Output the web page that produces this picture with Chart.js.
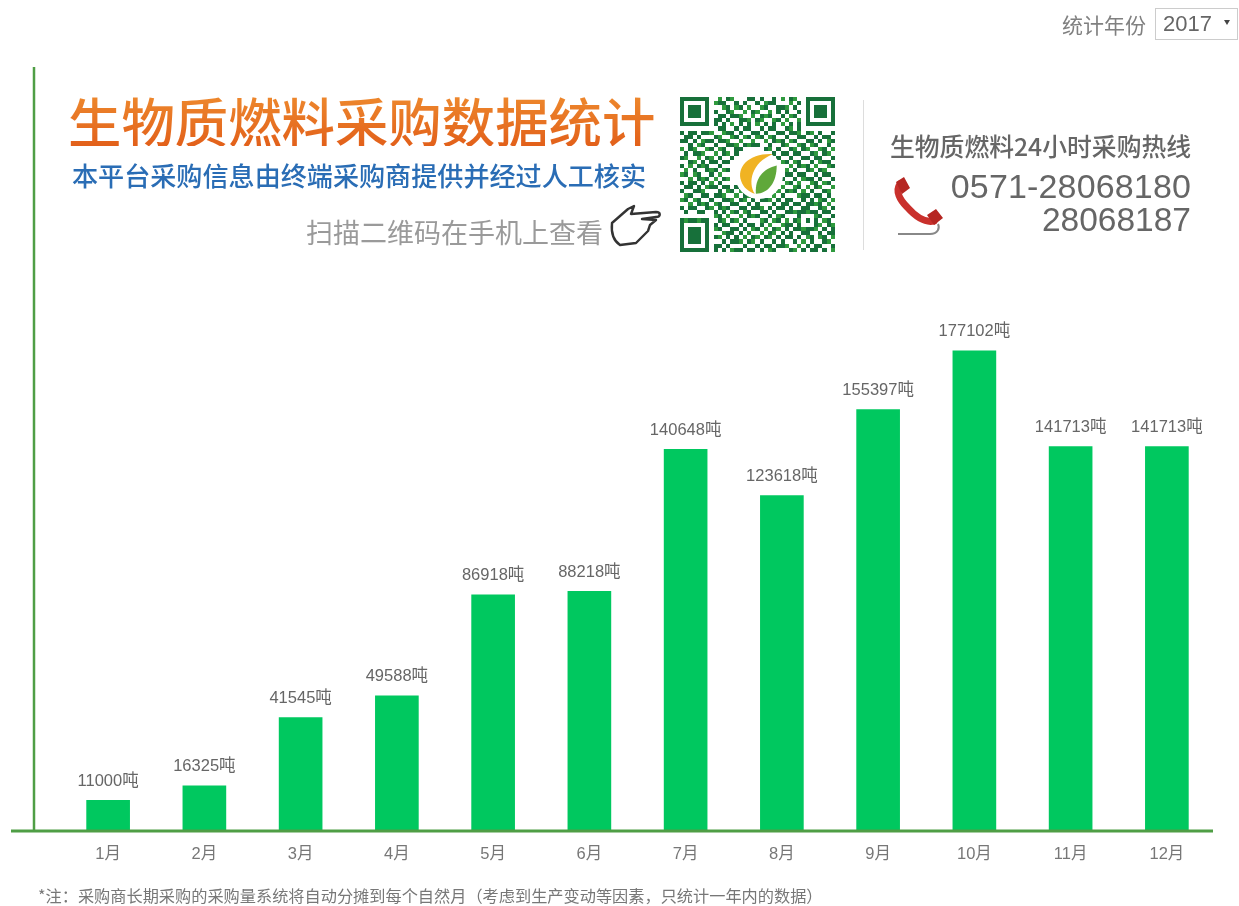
<!DOCTYPE html>
<html lang="zh-CN">
<head>
<meta charset="utf-8">
<title>生物质燃料采购数据统计</title>
<script src="https://cdn.jsdelivr.net/npm/chart.js@4/dist/chart.umd.min.js"></script>
<style>
html, body { margin: 0; padding: 0; background: #fff; }
#page { position: relative; width: 1239px; height: 906px; overflow: hidden; font-family: "Noto Sans CJK SC", sans-serif; filter: blur(0.7px); }
#myChart { position: absolute; left: 0; top: 0; }
.txt { position: absolute; white-space: nowrap; line-height: 1; }
#title { left: 68px; top: 93px; font-size: 53.4px; font-weight: 500; background: linear-gradient(#ee8a2e, #e2601a); -webkit-background-clip: text; background-clip: text; color: transparent; }
#sub { left: 72px; top: 162px; font-size: 26.1px; font-weight: 500; color: #2a6db5; }
#scan { left: 306px; top: 218px; font-size: 27px; color: #9a9a9a; }
#hot { left: 890px; top: 133px; font-size: 24.8px; font-weight: 500; color: #666; }
#tel1 { right: 48px; top: 167px; font: 34px "Liberation Sans", sans-serif; letter-spacing: 0.15px; color: #666; }
#tel2 { right: 48px; top: 201px; font: 33.5px "Liberation Sans", sans-serif; color: #666; }
#yearLabel { left: 1062px; top: 14px; font-size: 21px; color: #808080; }
#year { position: absolute; left: 1155px; top: 8px; width: 81px; height: 30px; border: 1px solid #ccc; font: 22px/30px "Liberation Sans", sans-serif; color: #666; box-sizing: content-box; }
#year span { position: absolute; left: 7px; top: 0; }
#year i { position: absolute; right: 7px; top: 11px; border-left: 3px solid transparent; border-right: 3px solid transparent; border-top: 5px solid #444; }
#note { left: 38px; top: 887px; font-size: 16.2px; color: #777; }
#divider { position: absolute; left: 863px; top: 100px; width: 1px; height: 150px; background: #ddd; }
svg { position: absolute; }
</style>
</head>
<body>
<div id="page">
  <canvas id="myChart" width="1239" height="906"></canvas>
  <div class="txt" id="title">生物质燃料采购数据统计</div>
  <div class="txt" id="sub">本平台采购信息由终端采购商提供并经过人工核实</div>
  <div class="txt" id="scan">扫描二维码在手机上查看</div>
  <svg style="left:606px;top:203px" width="58" height="46" viewBox="0 0 58 46">
    <path d="M6 20 L22 6 L28 3 L25 11 L50 9 C55 9 55 14 50 14 L36 16 L50 17 L44 22 L42 28 L36 34 L30 40 L14 42 C8 38 5 30 6 20 Z" fill="#fff" stroke="#333" stroke-width="2.4" stroke-linejoin="round"/>
  </svg>
  <svg id="qr" style="left:680px;top:97px" width="155" height="155" viewBox="0 0 37 37" shape-rendering="crispEdges"></svg>
  <svg style="left:735px;top:151px" width="48" height="48" viewBox="0 0 46 46">
    <circle cx="23" cy="23" r="23" fill="#fff"/>
    <path d="M36 3 C14 2 1 15 6 29 C8 35 13 39 19 41 C12 30 16 11 36 3 Z" fill="#f0b323"/>
    <path d="M40 14 C27 17 19 26 20 41 C32 41 40 30 40 14 Z" fill="#5fa83a"/>
  </svg>
  <div id="divider"></div>
  <div class="txt" id="hot">生物质燃料24小时采购热线</div>
  <div class="txt" id="tel1">0571-28068180</div>
  <div class="txt" id="tel2">28068187</div>
  <svg style="left:892px;top:174px" width="56" height="66" viewBox="0 0 56 66">
    <path d="M8 10 C3 17 8 26 15 33 C23 42 33 49 42 47" fill="none" stroke="#c9302c" stroke-width="7" stroke-linecap="round"/>
    <path d="M4 8 L12 3 L18 14 L10 20 Z M35 41 L44 35 L51 44 L42 51 Z" fill="#b52622"/>
    <path d="M6 60 L38 60 C46 60 48 54 46 50" fill="none" stroke="#888" stroke-width="2"/>
  </svg>
  <div class="txt" id="yearLabel">统计年份</div>
  <div id="year"><span>2017</span><i></i></div>
  <div class="txt" id="note">*注：采购商长期采购的采购量系统将自动分摊到每个自然月（考虑到生产变动等因素，只统计一年内的数据）</div>
</div>
<script>
const months = ['1月', '2月', '3月', '4月', '5月', '6月', '7月', '8月', '9月', '10月', '11月', '12月'];
const tons = [11000, 16325, 41545, 49588, 86918, 88218, 140648, 123618, 155397, 177102, 141713, 141713];
const unit = '吨';

const qrRows = [
  '1111111001011000110100101011001111111',
  '1000001011100101001011100010101000001',
  '1011101000110110100110011101001011101',
  '1011101010011001011001010100101011101',
  '1011101001101110010111001011001011101',
  '1000001011010011101100110100101000001',
  '1111111010101010101010101010101111111',
  '0000000001100101100101100110100000000',
  '1011011100111010011010011011101101001',
  '0110100011001101101101100100110010110',
  '1101011101110010010010111011001101011',
  '0010110010011101111001001100110110010',
  '1011001101100110000011010011011001101',
  '0101110010110100000000101101100110110',
  '1100101101001000000000010010011011001',
  '0011010110110000000000001101100101110',
  '1010111001000000000000000010111010011',
  '0101001110110000000000000101001101100',
  '1101100101000000000000000110110010110',
  '0010111010110000000000001001011101001',
  '1011010101000000000000010110100110110',
  '0110101110110100000000101001101011001',
  '1001110001011010000011010111010100110',
  '0110011011100101101100101000111011010',
  '1101100100111011010111010110010101101',
  '0010111011001100101000101101101111010',
  '1011001101110011011101011010011001101',
  '0100110010101101100110100111111110110',
  '0000000011010010111001011000100011001',
  '1111111001101101000110110101101010110',
  '1000001010110010110101001110100011011',
  '1011101011001101011010110101111110101',
  '1011101000111010100101101010011001011',
  '1011101011010101011011010110101101101',
  '1011101000101110110100101001010100110',
  '1000001011010001001011011100101011001',
  '1111111010101110110101100011010110101'
];

// qr code, only decoration
let qrHtml = '';
qrRows.forEach((row, y) => {
  [...row].forEach((c, x) => {
    if (c === '1') {
      const corner = (x < 7 && y < 7) || (x > 29 && y < 7) || (x < 7 && y > 29);
      const col = corner ? '#17703a' : ((x + y) % 3 === 0 ? '#2f9a3e' : '#17703a');
      qrHtml += '<rect x="' + x + '" y="' + y + '" width="1" height="1" fill="' + col + '"/>';
    }
  });
});
document.getElementById('qr').innerHTML = qrHtml;

const labelFont = '16.5px "Liberation Sans", "Noto Sans CJK SC", sans-serif';

// value labels on top of the bars
const barLabels = {
  id: 'barLabels',
  afterDatasetsDraw(chart) {
    const { ctx } = chart;
    ctx.save();
    ctx.font = labelFont;
    ctx.fillStyle = '#666';
    ctx.textAlign = 'center';
    ctx.textBaseline = 'middle';
    chart.getDatasetMeta(0).data.forEach((bar, i) => {
      ctx.fillText(tons[i] + unit, bar.x, bar.y - 19);
    });
    ctx.restore();
  }
};

// green axis lines, they run past the plot area
const axisLines = {
  id: 'axisLines',
  afterDatasetsDraw(chart) {
    const { ctx } = chart;
    const y0 = chart.scales.y.getPixelForValue(0);
    ctx.save();
    ctx.strokeStyle = '#4f9e45';
    ctx.lineWidth = 3;
    ctx.beginPath();
    ctx.moveTo(11, y0 + 1);
    ctx.lineTo(1213, y0 + 1);
    ctx.stroke();
    ctx.lineWidth = 2.5;
    ctx.beginPath();
    ctx.moveTo(34, chart.chartArea.top);
    ctx.lineTo(34, y0);
    ctx.stroke();
    ctx.restore();
  }
};

const ctx = document.getElementById('myChart').getContext('2d');
const myChart = new Chart(ctx, {
  type: 'bar',
  data: {
    labels: months,
    datasets: [{
      data: tons,
      backgroundColor: '#00c85f',
      barThickness: 43
    }]
  },
  options: {
    responsive: false,
    animation: false,
    layout: { padding: { left: 60, right: 24, top: 67, bottom: 0 } },
    plugins: { legend: { display: false }, tooltip: { enabled: false } },
    scales: {
      x: {
        grid: { display: false },
        border: { display: false },
        afterFit(scale) { scale.height = 76; },
        ticks: {
          padding: 7,
          color: '#777',
          maxRotation: 0,
          font: { size: 16.5, family: '"Liberation Sans", "Noto Sans CJK SC", sans-serif' }
        }
      },
      y: {
        display: false,
        min: 0,
        max: 282000
      }
    }
  },
  plugins: [barLabels, axisLines]
});
</script>
</body>
</html>
